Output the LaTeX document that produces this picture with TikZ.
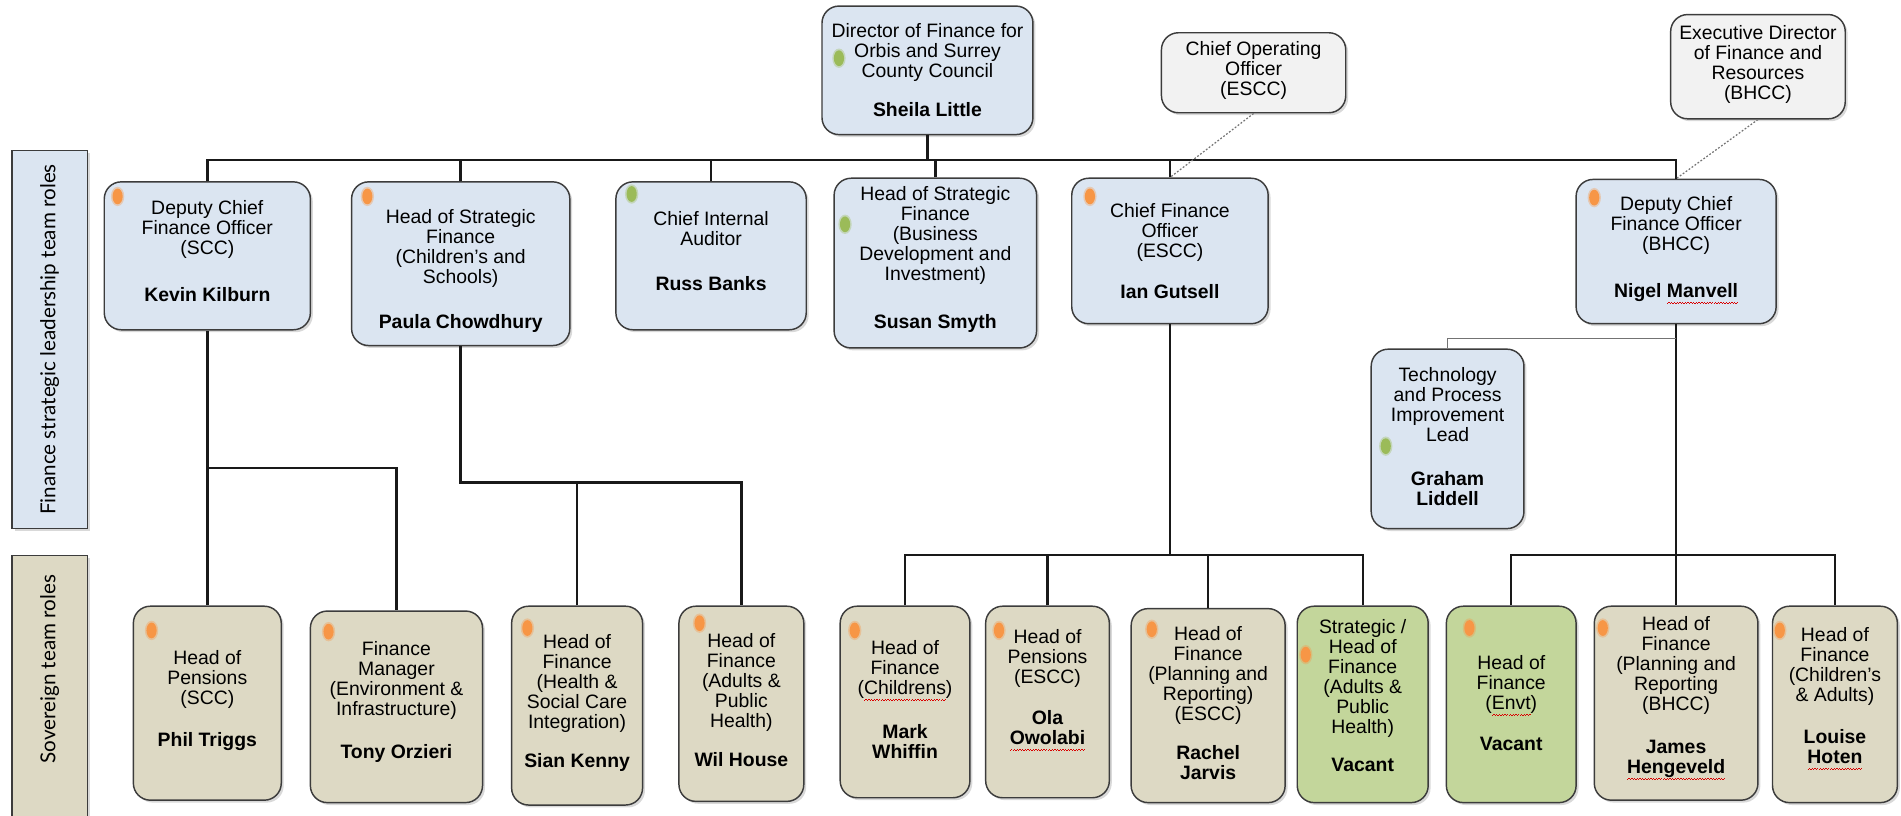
\documentclass[tikz,border=0pt]{standalone}
\usepackage{fontspec}
\setmainfont{Liberation Sans}
\newfontfamily\labelfont{Lato}
\usetikzlibrary{shadows}
\definecolor{bluefill}{HTML}{DBE5F1}
\definecolor{beigefill}{HTML}{DDD9C4}
\definecolor{greenfill}{HTML}{C3D69B}
\definecolor{grayfill}{HTML}{F2F2F2}
\definecolor{dotor}{HTML}{F79646}
\definecolor{dotgr}{HTML}{9BBB59}
\definecolor{edgecol}{HTML}{3C3C3C}
\newcommand\redwave[1]{\setbox0\hbox{#1}\rlap{\hbox to \wd0{\color{red!85!black}\xleaders\hbox{\rule[-5.2pt]{1.1pt}{0.7pt}\rule[-4.4pt]{1.1pt}{0.7pt}}\hfill}}\box0}
\tikzset{
  box/.style={draw=edgecol, line width=1.2pt, rounded corners=14pt,
    drop shadow={shadow xshift=2pt, shadow yshift=-2pt, opacity=0.3}},
  bluebox/.style={box, fill=bluefill},
  beigebox/.style={box, fill=beigefill},
  greenbox/.style={box, fill=greenfill},
  graybox/.style={box, fill=grayfill},
  labelbox/.style={draw=edgecol, line width=1.2pt,
    drop shadow={shadow xshift=2pt, shadow yshift=-2pt, opacity=0.3}},
  txt/.style={align=center, font=\fontsize{16}{16.5}\selectfont, inner sep=0pt},
  labtxt/.style={rotate=90, font=\labelfont\fontsize{17}{19}\selectfont, inner sep=0pt},
  conn/.style={line width=2pt, draw=black!90},
  thinconn/.style={line width=1pt, draw=black!55},
  dotline/.style={dash pattern=on 1.5pt off 1.5pt, draw=black!55, line width=1pt},
  odot/.style={fill=dotor},
  gdot/.style={fill=dotgr},
}
\newcommand\obox[7]{%
  \node[#1, minimum width=#4pt, minimum height=#5pt] (#2) at (#3) {};
  \node[txt, yshift=#7pt] (#2t) at (#2.center) {#6};}
\newcommand\bdot[3]{%
  \fill[#1, opacity=0.35] (#2,#3) ellipse [x radius=5.5pt, y radius=8pt];
  \fill[#1] (#2,#3) ellipse [x radius=4.2pt, y radius=6.5pt];}
\begin{document}
\begin{tikzpicture}[x=1pt,y=-1pt]
\useasboundingbox (0,0) rectangle (1568,673);
% side labels
\node[labelbox, fill=bluefill, minimum width=62pt, minimum height=312pt] (lab1) at (41,280) {};
\node[labtxt] (lab1t) at (lab1.center) {Finance strategic leadership team roles};
\node[labelbox, fill=beigefill, minimum width=62pt, minimum height=240pt] (lab2) at (41,578) {};
\node[labtxt] (lab2t) at (41,552) {Sovereign team roles};
% top
\obox{bluebox}{dir}{765,58}{174}{106}{Director of Finance for\\Orbis and Surrey\\County Council\\[16pt]\textbf{Sheila Little}}{0}
\obox{graybox}{coo}{1034,60}{152}{66}{Chief Operating\\Officer\\(ESCC)}{2}
\obox{graybox}{exe}{1450,55}{144}{86}{Executive Director\\of Finance and\\Resources\\(BHCC)}{2}
% second row
\obox{bluebox}{kevin}{171,211}{170}{122}{Deputy Chief\\Finance Officer\\(SCC)\\[22pt]\textbf{Kevin Kilburn}}{4}
\obox{bluebox}{paula}{380,217.5}{180}{135}{Head of Strategic\\Finance\\(Children’s and\\Schools)\\[20pt]\textbf{Paula Chowdhury}}{-6}
\obox{bluebox}{russ}{586.5,211}{157}{122}{Chief Internal\\Auditor\\[20pt]\textbf{Russ Banks}}{4}
\obox{bluebox}{susan}{771.5,217}{167}{140}{Head of Strategic\\Finance\\(Business\\Development and\\Investment)\\[23pt]\textbf{Susan Smyth}}{3}
\obox{bluebox}{ian}{965,207}{162}{120}{Chief Finance\\Officer\\(ESCC)\\[17pt]\textbf{Ian Gutsell}}{0}
\obox{bluebox}{nigel}{1382.5,207.5}{165}{119}{Deputy Chief\\Finance Officer\\(BHCC)\\[22pt]\textbf{Nigel \redwave{Manvell}}}{1}
\obox{bluebox}{graham}{1194,362}{126}{148}{Technology\\and Process\\Improvement\\Lead\\[20pt]\textbf{Graham}\\\textbf{Liddell}}{2}
% bottom row
\obox{beigebox}{phil}{171,580}{122}{160}{Head of\\Pensions\\(SCC)\\[18pt]\textbf{Phil Triggs}}{2}
\obox{beigebox}{tony}{327,583}{142}{158}{Finance\\Manager\\(Environment \&\\Infrastructure)\\[19pt]\textbf{Tony Orzieri}}{4}
\obox{beigebox}{sian}{476,582}{108}{164}{Head of\\Finance\\(Health \&\\Social Care\\Integration)\\[16pt]\textbf{Sian Kenny}}{2}
\obox{beigebox}{wil}{611.5,580.5}{103}{161}{Head of\\Finance\\(Adults \&\\Public\\Health)\\[16pt]\textbf{Wil House}}{3}
\obox{beigebox}{mark}{746.5,579}{107}{158}{Head of\\Finance\\(\redwave{Childrens})\\[18pt]\textbf{Mark}\\\textbf{Whiffin}}{2}
\obox{beigebox}{ola}{864,579}{102}{158}{Head of\\Pensions\\(ESCC)\\[17pt]\textbf{Ola}\\\redwave{\textbf{Owolabi}}}{10}
\obox{beigebox}{rachel}{996.5,582}{127}{160}{Head of\\Finance\\(Planning and\\Reporting)\\(ESCC)\\[16pt]\textbf{Rachel}\\\textbf{Jarvis}}{2}
\obox{greenbox}{sv}{1124,581}{108}{162}{Strategic /\\Head of\\Finance\\(Adults \&\\Public\\Health)\\[15pt]\textbf{Vacant}}{7}
\obox{greenbox}{envt}{1246.5,581}{107}{162}{Head of\\Finance\\(\redwave{Envt})\\[17pt]\textbf{Vacant}}{1}
\obox{beigebox}{james}{1382.5,580}{135}{160}{Head of\\Finance\\(Planning and\\Reporting\\(BHCC)\\[19pt]\textbf{James}\\\redwave{\textbf{Hengeveld}}}{4}
\obox{beigebox}{louise}{1513.5,581}{103}{162}{Head of\\Finance\\(Children’s\\\& Adults)\\[18pt]\textbf{Louise}\\\redwave{\textbf{Hoten}}}{5}
% bullets
\bdot{gdot}{692}{48}
\bdot{odot}{97}{162}
\bdot{odot}{303}{162}
\bdot{gdot}{521}{160}
\bdot{gdot}{697}{185}
\bdot{odot}{899}{162}
\bdot{odot}{1315}{163}
\bdot{gdot}{1143}{368}
\bdot{odot}{125}{520}
\bdot{odot}{271}{521}
\bdot{odot}{435}{518}
\bdot{odot}{577}{514}
\bdot{odot}{705}{520}
\bdot{odot}{824}{520}
\bdot{odot}{950}{519}
\bdot{odot}{1077}{540}
\bdot{odot}{1212}{518}
\bdot{odot}{1322}{518}
\bdot{odot}{1468}{520}
% connectors
\coordinate (topbar) at (0,132);
\coordinate (kbar) at (0,386);
\coordinate (pbar) at (0,398);
\coordinate (lowbar) at (0,458);
\coordinate (gbar) at (0,279);
\draw[conn] (dir.south) -- (dir.south |- topbar);
\draw[conn] (kevin.north) -- (kevin.north |- topbar) -- (nigel.north |- topbar) -- (nigel.north);
\draw[conn] (paula.north) -- (paula.north |- topbar);
\draw[conn] (russ.north) -- (russ.north |- topbar);
\draw[conn] (susan.north) -- (susan.north |- topbar);
\draw[conn] (ian.north) -- (ian.north |- topbar);
\draw[dotline] (coo.south) -- (ian.north);
\draw[dotline] (exe.south) -- (nigel.north);
\draw[conn] (kevin.south) -- (phil.north);
\draw[conn] (kevin.south |- kbar) -| (tony.north);
\draw[conn] (paula.south) |- (wil.north |- pbar) -- (wil.north);
\draw[conn] (sian.north) -- (sian.north |- pbar);
\draw[conn] (ian.south) -- (ian.south |- lowbar);
\draw[conn] (mark.north) |- (sv.north |- lowbar) -- (sv.north);
\draw[conn] (ola.north) -- (ola.north |- lowbar);
\draw[conn] (rachel.north) -- (rachel.north |- lowbar);
\draw[conn] (nigel.south) -- (james.north);
\draw[conn] (envt.north) |- (louise.north |- lowbar) -- (louise.north);
\draw[thinconn] (nigel.south |- gbar) -| (graham.north);
\end{tikzpicture}
\end{document}
